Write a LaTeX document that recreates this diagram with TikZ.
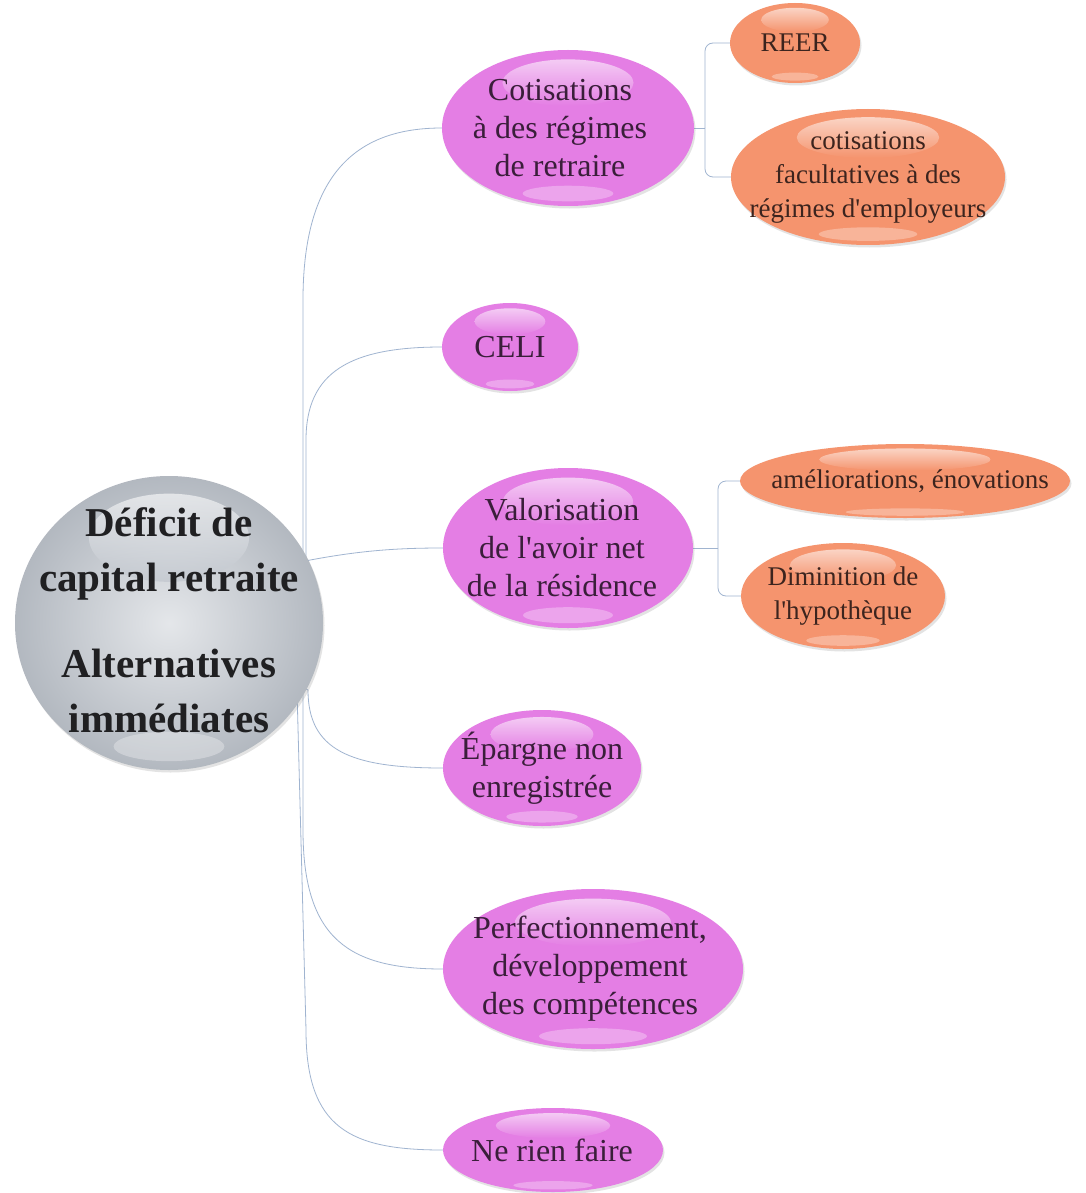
\documentclass[tikz,border=0pt]{standalone}
\usepackage{fontspec}
\setmainfont{Liberation Serif}
\usetikzlibrary{shapes.geometric,shadows,backgrounds}
\definecolor{pinkf}{RGB}{228,126,228}
\definecolor{orangef}{RGB}{245,148,110}
\definecolor{grayf}{RGB}{188,194,202}
\definecolor{connc}{RGB}{160,180,208}
\definecolor{ptxt}{RGB}{58,30,58}
\definecolor{otxt}{RGB}{60,36,30}
\definecolor{rtxt}{RGB}{32,32,34}
\newcommand\apos{\XeTeXglyph\XeTeXcharglyph"0027\relax}
\newcommand\gloss[5]{%
  \shade[top color=white, bottom color=#5, opacity=0.6] ({#1},{#2-0.58*#4}) ellipse ({0.52*#3} and {0.3*#4});
  \fill[white, opacity=0.3] ({#1},{#2+0.84*#4}) ellipse ({0.36*#3} and {0.1*#4});
}
\tikzset{
  bubble/.style={ellipse, inner sep=0pt, draw=none,
    drop shadow={opacity=0.22, shadow xshift=1.5pt, shadow yshift=-2.5pt}},
  pinkb/.style={bubble, fill=pinkf},
  orangeb/.style={bubble, fill=orangef},
  ptext/.style={align=center, text=ptxt, inner sep=0pt, font=\fontsize{32}{38}\selectfont},
  otext/.style={align=center, text=otxt, inner sep=0pt, font=\fontsize{27}{34}\selectfont},
  rtext/.style={align=center, text=rtxt, inner sep=0pt, font=\bfseries\fontsize{41}{55}\selectfont},
  link/.style={draw=connc, line width=0.8pt},
}
\begin{document}
\begin{tikzpicture}[x=1pt,y=-1pt]
\useasboundingbox (0,0) rectangle (1085,1193);

% root
\node[bubble, minimum width=308, minimum height=294, inner color=white!60!grayf, outer color=grayf!95!black] (root) at (169,623) {};
\gloss{169}{623}{154}{147}{grayf}
\node[rtext] (roott) at (169,620) {Déficit de\\capital retraite\\[31pt]Alternatives\\immédiates};

% pink children
\node[pinkb, minimum width=252, minimum height=156] (c1) at (568,128) {};
\gloss{568}{128}{126}{78}{pinkf}
\node[ptext] (c1t) at (560,128) {Cotisations\\à des régimes\\de retraire};

\node[pinkb, minimum width=136, minimum height=88] (c2) at (510,347) {};
\gloss{510}{347}{68}{44}{pinkf}
\node[ptext] (c2t) at (510,347) {CELI};

\node[pinkb, minimum width=250, minimum height=160] (c3) at (568,548) {};
\gloss{568}{548}{125}{80}{pinkf}
\node[ptext] (c3t) at (562,548) {Valorisation\\de l\apos avoir net\\de la résidence};

\node[pinkb, minimum width=198, minimum height=116] (c4) at (542,768) {};
\gloss{542}{768}{99}{58}{pinkf}
\node[ptext] (c4t) at (542,768) {Épargne non\\enregistrée};

\node[pinkb, minimum width=300, minimum height=160] (c5) at (593,969) {};
\gloss{593}{969}{150}{80}{pinkf}
\node[ptext] (c5t) at (590,969) {Perfectionnement,\\développement\\des compétences};

\node[pinkb, minimum width=220, minimum height=84] (c6) at (553,1150) {};
\gloss{553}{1150}{110}{42}{pinkf}
\node[ptext] (c6t) at (552,1150) {Ne rien faire};

% orange grandchildren
\node[orangeb, minimum width=130, minimum height=80] (o1) at (795,43) {};
\gloss{795}{43}{65}{40}{orangef}
\node[otext] (o1t) at (795,43) {REER};

\node[orangeb, minimum width=274, minimum height=136] (o2) at (868,177) {};
\gloss{868}{177}{137}{68}{orangef}
\node[otext] (o2t) at (868,177) {cotisations\\facultatives à des\\régimes d\apos employeurs};

\node[orangeb, minimum width=330, minimum height=74] (o3) at (905,481) {};
\gloss{905}{481}{165}{37}{orangef}
\node[otext] (o3t) at (910,481) {améliorations, énovations};

\node[orangeb, minimum width=204, minimum height=106] (o4) at (843,596) {};
\gloss{843}{596}{102}{53}{orangef}
\node[otext] (o4t) at (843,596) {Diminition de\\l\apos hypothèque};

\coordinate (j1) at (705,128);
\coordinate (j3) at (718,548);

\begin{scope}[on background layer]
  \fill[white] (0,0) rectangle (1085,1193);
  \draw[link] (root.center) -- (303,560) -- (303,300) .. controls (303,170) and (360,128) .. (c1.west);
  \draw[link] (root.center) -- (306,560) -- (306,440) .. controls (306,372) and (350,347) .. (c2.west);
  \draw[link] (root.center) -- (300,562) .. controls (360,550) and (400,548) .. (c3.west);
  \draw[link] (root.center) -- (308,690) .. controls (308,750) and (350,768) .. (c4.west);
  \draw[link] (root.center) -- (303,690) -- (303,830) .. controls (303,940) and (350,969) .. (c5.west);
  \draw[link] (root.center) -- (297,690) -- (306,1030) .. controls (306,1128) and (350,1150) .. (c6.west);
  \draw[link] (c1.east) -- (j1);
  \draw[link, rounded corners=8] (j1) |- (o1.west);
  \draw[link, rounded corners=8] (j1) |- (o2.west);
  \draw[link] (c3.east) -- (j3);
  \draw[link, rounded corners=8] (j3) |- (o3.west);
  \draw[link, rounded corners=8] (j3) |- (o4.west);
\end{scope}
\end{tikzpicture}
\end{document}
